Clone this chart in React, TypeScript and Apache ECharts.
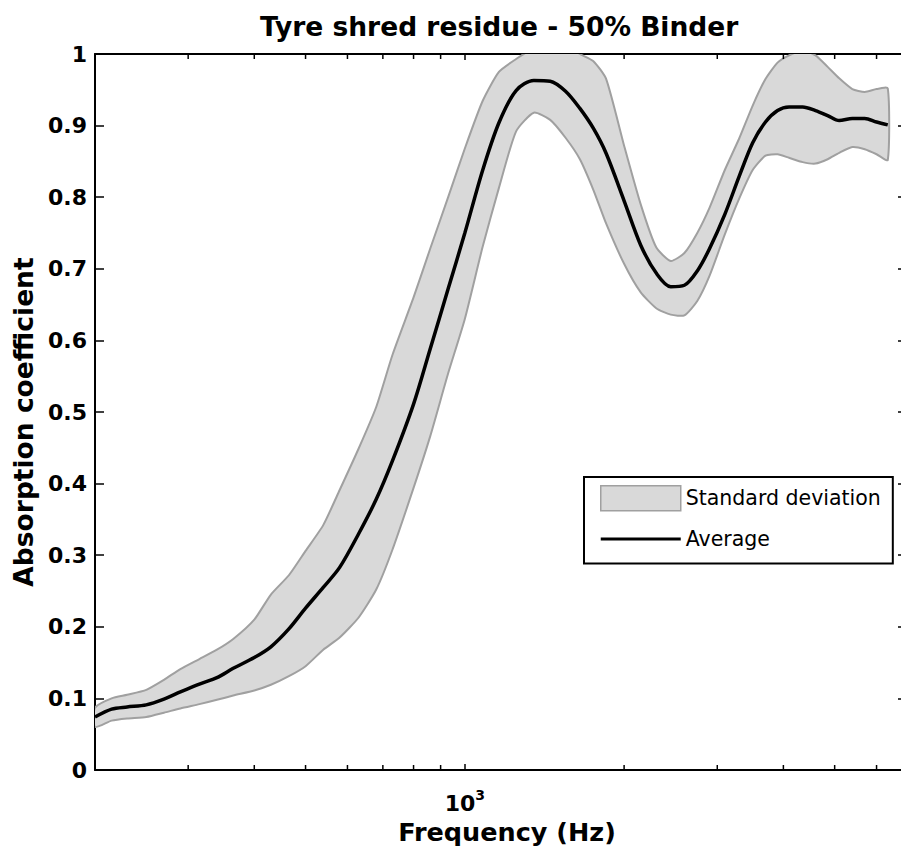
import React, { useEffect, useRef } from "react";
import * as echarts from "echarts";

// Frequency grid (Hz) shared by every series
const freqHz = [
  200, 215, 230, 250, 270, 290, 315, 340, 365, 400, 430, 465, 500, 540, 580, 630, 680, 730, 800, 860, 930,
  1000, 1080, 1160, 1250, 1350, 1450, 1550, 1650, 1750, 1850, 2000, 2150, 2300, 2450, 2600, 2750, 2900,
  3100, 3300, 3500, 3700, 3900, 4100, 4350, 4600, 4850, 5100, 5400, 5700, 6000, 6300,
];

// Average absorption coefficient
const meanAbs = [
  0.074, 0.085, 0.088, 0.091, 0.099, 0.109, 0.12, 0.129, 0.142, 0.157, 0.172, 0.197, 0.226, 0.255, 0.283,
  0.33, 0.378, 0.432, 0.511, 0.588, 0.672,
  0.75, 0.837, 0.904, 0.949, 0.963, 0.962, 0.948, 0.924, 0.896, 0.861, 0.795, 0.733, 0.694, 0.675, 0.677,
  0.697, 0.728, 0.776, 0.829, 0.876, 0.905, 0.921, 0.926, 0.926, 0.921, 0.914, 0.907, 0.91, 0.91, 0.905, 0.901,
];

// Average + standard deviation
const upperAbs = [
  0.087, 0.1, 0.105, 0.112, 0.126, 0.141, 0.155, 0.168, 0.183, 0.21, 0.245, 0.272, 0.306, 0.342, 0.391,
  0.449, 0.507, 0.58, 0.66, 0.728, 0.8,
  0.868, 0.934, 0.975, 0.993, 1.008, 1.015, 1.015, 1.0, 0.99, 0.965, 0.872, 0.79, 0.73, 0.711, 0.722,
  0.75, 0.785, 0.838, 0.882, 0.928, 0.965, 0.988, 0.998, 1.005, 0.998, 0.982, 0.966, 0.951, 0.947, 0.951, 0.952,
];

// Average - standard deviation
const lowerAbs = [
  0.06, 0.069, 0.072, 0.074, 0.08, 0.086, 0.092, 0.098, 0.104, 0.111, 0.119, 0.131, 0.145, 0.168, 0.185,
  0.213, 0.252, 0.308, 0.394, 0.466, 0.554,
  0.63, 0.73, 0.813, 0.892, 0.918, 0.908, 0.883, 0.853, 0.81, 0.763, 0.707, 0.667, 0.645, 0.636, 0.635,
  0.655, 0.69, 0.748, 0.798, 0.838, 0.858, 0.86, 0.855, 0.849, 0.847, 0.853, 0.862, 0.87, 0.867, 0.86, 0.852,
];

// Minor tick positions of the logarithmic frequency axis
const minorTickHz = [300, 400, 500, 600, 700, 800, 900, 2000, 3000, 4000, 5000, 6000];

const xMin = 200;
const xMax = 6850;
const yMin = 0;
const yMax = 1;
const yStep = 0.1;

const titleText = "Tyre shred residue - 50% Binder";
const xName = "Frequency (Hz)";
const yName = "Absorption coefficient";
const bandName = "Standard deviation";
const meanName = "Average";

const BOLD = "DejaVu Sans";

export default function App() {
  const ref = useRef<HTMLDivElement>(null);

  useEffect(() => {
    if (!ref.current) return;
    const chart = echarts.init(ref.current, undefined, { renderer: "svg" });

    const yFmt = (v: number) => {
      if (Math.abs(v) < 1e-9) return "0";
      if (Math.abs(v - 1) < 1e-9) return "1";
      return v.toFixed(1);
    };

    const option: any = {
      animation: false,
      backgroundColor: "#ffffff",
      title: {
        text: titleText,
        left: 255,
        top: 8,
        textStyle: { fontFamily: BOLD, fontWeight: "bold", fontSize: 26.5, color: "#000" },
      },
      grid: { left: 95, top: 54, width: 812, height: 716, show: false },
      legend: {
        orient: "vertical",
        left: 584,
        top: 477,
        padding: [8, 12, 12, 16],
        itemWidth: 80,
        itemHeight: 25,
        itemGap: 15,
        borderColor: "#000",
        borderWidth: 2,
        borderRadius: 0,
        backgroundColor: "#fff",
        selectedMode: false,
        textStyle: { fontFamily: "DejaVu Sans", fontSize: 20.5, color: "#000", lineHeight: 25 },
        data: [
          {
            name: bandName,
            icon: "rect",
            itemStyle: { color: "#d9d9d9", borderColor: "#a0a0a0", borderWidth: 1.5 },
          },
          {
            name: meanName,
            icon: "path://M0,0 L80,0 L80,3 L0,3 Z",
            itemStyle: { color: "#000", borderWidth: 0 },
          },
        ],
      },
      xAxis: [
        {
          type: "log",
          logBase: 10,
          min: xMin,
          max: xMax,
          position: "bottom",
          name: xName,
          nameLocation: "middle",
          nameGap: 29,
          nameTextStyle: {
            fontFamily: BOLD,
            fontWeight: "bold",
            fontSize: 25.5,
            color: "#000",
            padding: [0, 0, 0, 12],
          },
          axisLine: { show: true, onZero: false, lineStyle: { color: "#000", width: 2 } },
          axisTick: { show: true, inside: true, length: 6, lineStyle: { color: "#000", width: 1.5 } },
          splitLine: { show: false },
          minorTick: { show: false },
          axisLabel: {
            margin: 18,
            formatter: (v: number) => (Math.abs(v - 1000) < 1e-3 ? "{b|10}{s|3}" : ""),
            rich: {
              b: { fontFamily: BOLD, fontWeight: "bold", fontSize: 22, color: "#000" },
              s: { fontFamily: BOLD, fontWeight: "bold", fontSize: 14, color: "#000", padding: [0, 0, 16, 0] },
            },
          },
        },
        {
          type: "log",
          logBase: 10,
          min: xMin,
          max: xMax,
          position: "top",
          axisLine: { show: true, onZero: false, lineStyle: { color: "#000", width: 2 } },
          axisTick: { show: true, inside: true, length: 6, lineStyle: { color: "#000", width: 1.5 } },
          axisLabel: { show: false },
          splitLine: { show: false },
        },
      ],
      yAxis: [
        {
          type: "value",
          min: yMin,
          max: yMax,
          interval: yStep,
          position: "left",
          name: yName,
          nameLocation: "middle",
          nameGap: 58,
          nameTextStyle: {
            fontFamily: BOLD,
            fontWeight: "bold",
            fontSize: 26.5,
            color: "#000",
            padding: [0, 20, 0, 0],
          },
          axisLine: { show: true, onZero: false, lineStyle: { color: "#000", width: 2 } },
          axisTick: { show: true, inside: true, length: 9, lineStyle: { color: "#000", width: 1.5 } },
          splitLine: { show: false },
          axisLabel: {
            margin: 8,
            formatter: yFmt,
            fontFamily: BOLD,
            fontWeight: "bold",
            fontSize: 22,
            color: "#000",
          },
        },
        {
          type: "value",
          min: yMin,
          max: yMax,
          interval: yStep,
          position: "right",
          axisLine: { show: true, onZero: false, lineStyle: { color: "#000", width: 2 } },
          axisTick: { show: true, inside: true, length: 9, lineStyle: { color: "#000", width: 1.5 } },
          axisLabel: { show: false },
          splitLine: { show: false },
        },
      ],
      series: [
        {
          name: bandName,
          type: "custom",
          xAxisIndex: 0,
          yAxisIndex: 0,
          clip: true,
          z: 1,
          itemStyle: { color: "#d9d9d9" },
          data: [[freqHz[0], lowerAbs[0]]],
          renderItem: (params: any, api: any) => {
            const pts: number[][] = [];
            for (let i = 0; i < freqHz.length; i++) pts.push(api.coord([freqHz[i], upperAbs[i]]));
            for (let i = freqHz.length - 1; i >= 0; i--) pts.push(api.coord([freqHz[i], lowerAbs[i]]));
            const cs = params.coordSys;
            return {
              type: "polygon",
              shape: { points: pts, smooth: 0.2 },
              style: { fill: "#d9d9d9", stroke: "#a0a0a0", lineWidth: 2, lineJoin: "round" },
              clipPath: { type: "rect", shape: { x: cs.x, y: cs.y, width: cs.width, height: cs.height } },
            };
          },
        },
        {
          name: meanName,
          type: "line",
          xAxisIndex: 0,
          yAxisIndex: 0,
          z: 3,
          symbol: "none",
          smooth: 0.3,
          lineStyle: { color: "#000", width: 3.5 },
          itemStyle: { color: "#000" },
          data: freqHz.map((f, i) => [f, meanAbs[i]]),
        },
        {
          name: "minor ticks",
          type: "custom",
          xAxisIndex: 0,
          yAxisIndex: 0,
          z: 5,
          silent: true,
          data: minorTickHz.map((f) => [f, yMin]),
          renderItem: (params: any, api: any) => {
            const cs = params.coordSys;
            const x = api.coord([api.value(0), yMin])[0];
            const top = cs.y;
            const bottom = cs.y + cs.height;
            return {
              type: "group",
              children: [
                { type: "line", shape: { x1: x, y1: bottom, x2: x, y2: bottom - 5 }, style: { stroke: "#000", lineWidth: 1.5 } },
                { type: "line", shape: { x1: x, y1: top, x2: x, y2: top + 5 }, style: { stroke: "#000", lineWidth: 1.5 } },
              ],
            };
          },
        },
      ],
    };

    chart.setOption(option);
    return () => chart.dispose();
  }, []);

  return (
    <div
      ref={ref}
      style={{ position: "fixed", left: 0, top: 0, width: 920, height: 855, background: "#fff" }}
    />
  );
}
